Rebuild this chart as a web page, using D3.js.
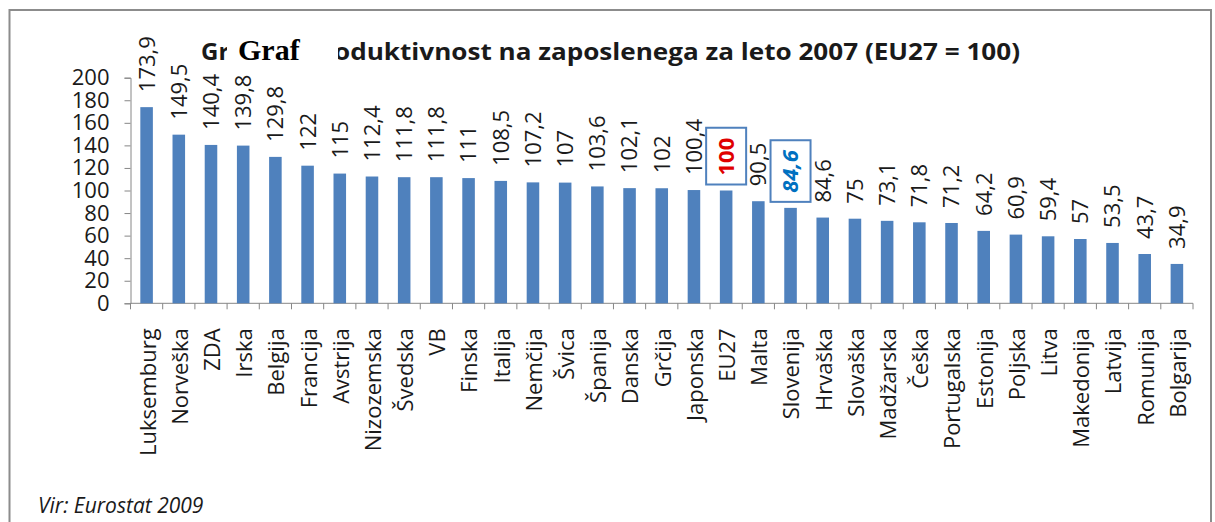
<!DOCTYPE html>
<html>
<head>
<meta charset="utf-8">
<script src="https://cdn.jsdelivr.net/npm/d3@7/dist/d3.min.js"></script>
<style>
  body { margin: 0; background: #fff; }
  text { font-family: "Open Sans", sans-serif; fill: #1a1a1a; }
</style>
</head>
<body>
<div class="chart"></div>
<script>
var categories = ["Luksemburg", "Norveška", "ZDA", "Irska", "Belgija", "Francija", "Avstrija",
  "Nizozemska", "Švedska", "VB", "Finska", "Italija", "Nemčija", "Švica", "Španija", "Danska",
  "Grčija", "Japonska", "EU27", "Malta", "Slovenija", "Hrvaška", "Slovaška", "Madžarska", "Češka",
  "Portugalska", "Estonija", "Poljska", "Litva", "Makedonija", "Latvija", "Romunija", "Bolgarija"];

var values = [173.9, 149.5, 140.4, 139.8, 129.8, 122, 115, 112.4, 111.8, 111.8, 111, 108.5, 107.2,
  107, 103.6, 102.1, 102, 100.4, 100, 90.5, 84.6, 76, 75, 73.1, 71.8, 71.2, 64.2, 60.9, 59.4, 57,
  53.5, 43.7, 34.9];

// labels as printed on the chart (Hrvaška carries 84,6 although its bar is lower)
var valueLabels = ["173,9", "149,5", "140,4", "139,8", "129,8", "122", "115", "112,4", "111,8",
  "111,8", "111", "108,5", "107,2", "107", "103,6", "102,1", "102", "100,4", "100", "90,5", "84,6",
  "84,6", "75", "73,1", "71,8", "71,2", "64,2", "60,9", "59,4", "57", "53,5", "43,7", "34,9"];

var yTicks = [0, 20, 40, 60, 80, 100, 120, 140, 160, 180, 200];

var highlighted = ["EU27", "Slovenija"];

var data = categories.map(function (c, i) {
  return { name: c, value: values[i], label: valueLabels[i] };
});

var W = 1215, H = 522;
var plot = { x0: 130.5, x1: 1193, y0: 77.7, y1: 303.3 };

var svg = d3.select('.chart').append('svg')
  .attr('width', W)
  .attr('height', H);

// outer frame
svg.append('path')
  .attr('d', 'M9.5,' + H + 'V10H1211V' + H)
  .attr('fill', 'none')
  .attr('stroke', '#8c8c8c')
  .attr('stroke-width', 2);

var x = d3.scaleBand()
  .domain(categories)
  .range([plot.x0, plot.x1])
  .paddingInner(0.61)
  .paddingOuter(0.305);

var y = d3.scaleLinear()
  .domain([0, 200])
  .range([plot.y1, plot.y0]);

// y axis
var yAxis = d3.axisLeft(y)
  .tickValues(yTicks)
  .tickSize(6)
  .tickPadding(15);

var gy = svg.append('g')
  .attr('transform', 'translate(' + plot.x0 + ',0)')
  .call(yAxis);
gy.select('.domain').attr('stroke', '#868686');
gy.selectAll('.tick line').attr('stroke', '#868686');
gy.selectAll('.tick text')
  .style('font-size', '22px')
  .style('font-family', '"Open Sans", sans-serif')
  .style('fill', '#1a1a1a');

// x axis: line and ticks at the category boundaries
var step = x.step();
var gx = svg.append('g');
gx.append('line')
  .attr('x1', plot.x0).attr('x2', plot.x1)
  .attr('y1', plot.y1).attr('y2', plot.y1)
  .attr('stroke', '#868686');
gx.selectAll('.xtick')
  .data(d3.range(categories.length + 1))
  .enter().append('line')
  .attr('class', 'xtick')
  .attr('x1', function (i) { return plot.x0 + i * step; })
  .attr('x2', function (i) { return plot.x0 + i * step; })
  .attr('y1', plot.y1).attr('y2', plot.y1 + 6)
  .attr('stroke', '#868686');

function cx(d) { return x(d.name) + x.bandwidth() / 2; }

// category labels
gx.selectAll('.cat')
  .data(data)
  .enter().append('text')
  .attr('class', 'cat')
  .attr('transform', function (d) {
    return 'translate(' + (cx(d) + 1) + ',' + (plot.y1 + 25) + ')rotate(-90)';
  })
  .attr('dy', '0.36em')
  .style('text-anchor', 'end')
  .style('font-size', '22px')
  .text(function (d) { return d.name; });

// bars
svg.selectAll('.bar')
  .data(data)
  .enter().append('rect')
  .attr('class', 'bar')
  .attr('x', function (d) { return x(d.name); })
  .attr('y', function (d) { return y(d.value); })
  .attr('width', x.bandwidth())
  .attr('height', function (d) { return plot.y1 - y(d.value); })
  .attr('fill', '#4f81bd');

// value labels
var labels = svg.selectAll('.val')
  .data(data)
  .enter().append('text')
  .attr('class', 'val')
  .attr('transform', function (d) {
    return 'translate(' + cx(d) + ',' + (y(d.value) - 15) + ')rotate(-90)';
  })
  .attr('dy', '0.36em')
  .style('font-size', '22px')
  .text(function (d) { return d.label; });

labels.filter(function (d) { return d.name === 'EU27'; })
  .style('font-weight', 'bold')
  .style('fill', '#e00000');

labels.filter(function (d) { return d.name === 'Slovenija'; })
  .style('font-weight', 'bold')
  .style('font-style', 'italic')
  .style('fill', '#0070c0');

// boxes round the highlighted labels
labels.filter(function (d) { return highlighted.indexOf(d.name) >= 0; })
  .each(function (d) {
    var len = this.getComputedTextLength();
    var yEnd = y(d.value) - 15;
    svg.append('rect')
      .attr('x', cx(d) - 20)
      .attr('y', yEnd - len - 10)
      .attr('width', 40)
      .attr('height', len + 19)
      .attr('fill', 'none')
      .attr('stroke', '#4f81bd')
      .attr('stroke-width', 2);
  });

// title, partly covered by a "Graf" patch
svg.append('text')
  .attr('x', 201)
  .attr('y', 60)
  .style('font-size', '24px')
  .style('font-weight', 'bold')
  .text('Gr');

svg.append('text')
  .attr('x', 334)
  .attr('y', 60)
  .attr('textLength', 686)
  .attr('lengthAdjust', 'spacingAndGlyphs')
  .style('font-size', '24px')
  .style('font-weight', 'bold')
  .text('oduktivnost na zaposlenega za leto 2007 (EU27 = 100)');

svg.append('rect')
  .attr('x', 227)
  .attr('y', 36)
  .attr('width', 111)
  .attr('height', 32)
  .attr('fill', '#fff');

svg.append('text')
  .attr('x', 238)
  .attr('y', 60)
  .style('font-family', '"Liberation Serif", serif')
  .style('font-size', '30px')
  .style('font-weight', 'bold')
  .style('fill', '#000')
  .text('Graf');

// source
svg.append('text')
  .attr('x', 38)
  .attr('y', 513)
  .style('font-size', '21px')
  .style('font-style', 'italic')
  .text('Vir: Eurostat 2009');
</script>
</body>
</html>
